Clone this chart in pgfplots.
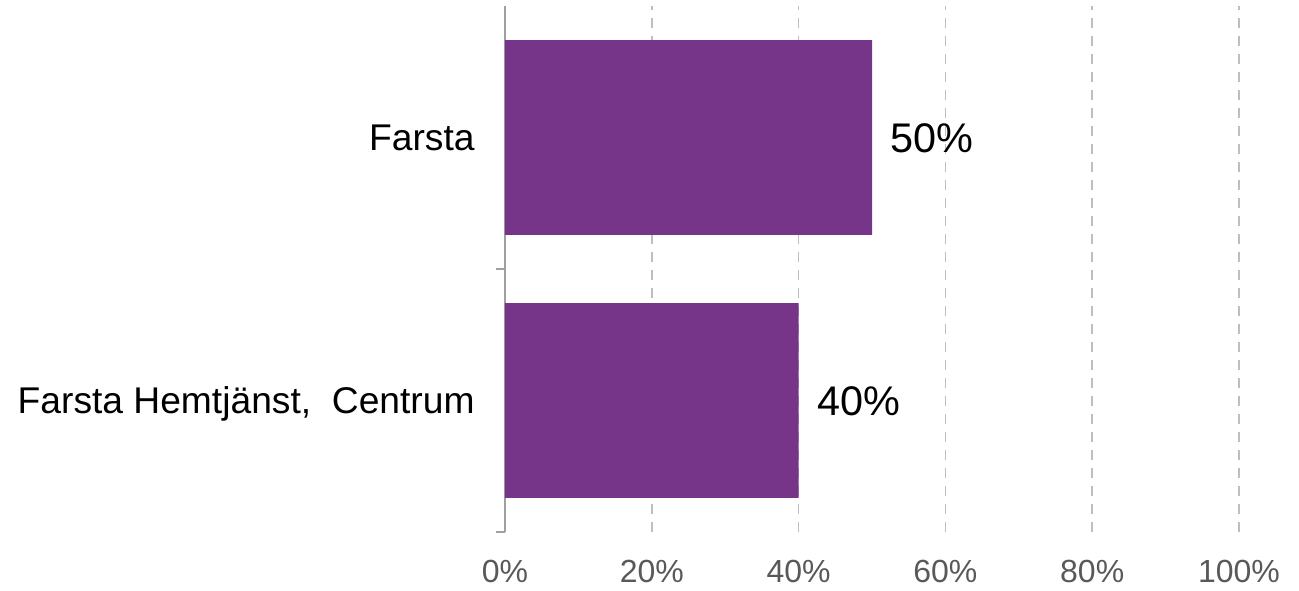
\documentclass[border=0pt]{standalone}
\usepackage{pgfplots}
\pgfplotsset{compat=1.18}
\usepackage{fontspec}
\setmainfont{Liberation Sans}
\definecolor{barpurple}{RGB}{119,53,137}
\definecolor{ticktext}{RGB}{89,89,89}
\definecolor{gridgray}{RGB}{190,190,190}
\definecolor{axgray}{RGB}{160,160,160}
\begin{document}
\begin{tikzpicture}
\begin{axis}[
  name=ax,
  scale only axis,
  width=367pt, height=263pt,
  xmin=0, xmax=100, ymin=-0.5, ymax=1.5,
  axis y line*=left, axis x line*=bottom,
  x axis line style={draw=none},
  y axis line style={draw=axgray, line width=1pt, -},
  /pgf/number format/assume math mode=true,
  xtick={0,20,40,60,80,100},
  xticklabels={0\%,20\%,40\%,60\%,80\%,100\%},
  xticklabel style={font=\fontsize{16}{19}\selectfont, text=ticktext, anchor=base, inner sep=0pt, yshift=-20.5pt},
  major x tick style={draw=none},
  xmajorgrids,
  x grid style={gridgray, dashed, line width=0.8pt, dash pattern=on 5pt off 4pt},
  ytick={-0.5,0.5},
  yticklabels={},
  tick align=outside,
  major tick length=4.5pt,
  major y tick style={draw=axgray, line width=1pt},
  extra y ticks={0,1},
  extra y tick labels={{Farsta Hemtjänst,~ Centrum},Farsta},
  extra y tick style={grid=none, major tick length=0pt,
    yticklabel style={font=\fontsize{18.6}{22}\selectfont, text=black, anchor=base east, inner sep=0pt, xshift=-15pt, yshift=-6.65pt}},
  xbar, bar width=0.74,
  point meta=x,
  nodes near coords={\pgfmathprintnumber{\pgfplotspointmeta}\%},
  nodes near coords align={horizontal},
  every node near coord/.append style={font=\fontsize{20.7}{24}\selectfont, text=black, anchor=base west, inner sep=0pt, xshift=9pt, yshift=-7.4pt},
]
\addplot[fill=barpurple, draw=none] coordinates {(40,0) (50,1)};
\end{axis}
\pgfresetboundingbox
\path[use as bounding box] ([xshift=-252.5pt,yshift=-29pt]ax.south west) rectangle ([xshift=30pt,yshift=3pt]ax.north east);
\end{tikzpicture}
\end{document}
